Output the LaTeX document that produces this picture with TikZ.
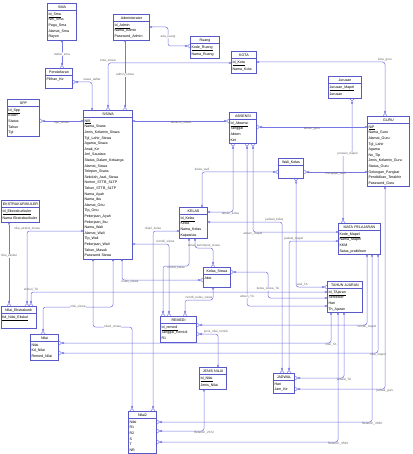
\documentclass[tikz,border=0pt]{standalone}
\usepackage{fontspec}
\usepackage{tikz}
\usetikzlibrary{arrows.meta,shapes.multipart}
\newfontfamily\erfont{Liberation Sans}
\definecolor{erline}{RGB}{88,88,200}
\definecolor{relline}{RGB}{118,118,228}
\setlength\parindent{0pt}
\newcommand\enttitle[1]{\strut\hfill#1\hfill\null}

\begin{document}
\begin{tikzpicture}[
    x=1pt, y=-1pt,
    font=\erfont\fontsize{3.6}{5.6}\selectfont,
    cone/.tip={Circle[open,length=2.2pt,width=2.2pt]},
    cmany/.tip={Circle[open,length=2.2pt,width=2.2pt] Straight Barb[reversed,length=2.4pt,width=4pt]},
    entity/.style={
		rectangle split,
		rectangle split parts=2,
		draw=erline,
		line width=0.6pt,
		fill=white,
		anchor=north west,
		inner xsep=1.2pt,
		inner ysep=0.5pt,
		text width=#1,
		align=left
	},
	rel/.style={
		draw=relline,
		line width=0.5pt,
		rounded corners=2.5pt
	},
	rlabel/.style={
		font=\erfont\fontsize{3.1}{3.5}\selectfont,
		text=black!60,
		inner sep=0.4pt
	}
  ]
  \useasboundingbox (0,0) rectangle (412,454);

    % We start by placing the entities
  \node [entity=27pt] (sma) at (47,3)
  {\enttitle{SMA}\nodepart{two}\strut\underline{Id\_Sma}\\Nm\_Sma\\Pagu\_Sma\\Alamat\_Sma\\Rayon\strut};

  \node [entity=34pt] (admin) at (113,14)
  {\enttitle{Administrator}\nodepart{two}\strut\underline{Id\_Admin}\\Nama\_Admin\\Password\_Admin\strut};

  \node [entity=27pt] (ruang) at (190,36)
  {\enttitle{Ruang}\nodepart{two}\strut\underline{Kode\_Ruang}\\Nama\_Ruang\strut};

  \node [entity=23pt] (kota) at (231,51)
  {\enttitle{KOTA}\nodepart{two}\strut\underline{Id\_Kota}\\Nama\_Kota\strut};

  \node [entity=25pt] (daftar) at (45,68)
  {\enttitle{Pendaftaran}\nodepart{two}\strut Pilihan\_Ke\\\strut};

  \node [entity=30pt] (spp) at (7,99)
  {\enttitle{SPP}\nodepart{two}\strut\underline{Id\_Spp}\\Bulan\\Status\\Tahun\\Tgl\strut};

  \node [entity=47pt] (siswa) at (83,110)
  {\enttitle{SISWA}\nodepart{two}\strut\underline{NIS}\\Nama\_Siswa\\Jenis\_Kelamin\_Siswa\\Tgl\_Lahir\_Siswa\\
   Agama\_Siswa\\Anak\_Ke\\Jml\_Saudara\\Status\_Dalam\_Keluarga\\Alamat\_Siswa\\Telepon\_Siswa\\
   Sekolah\_Asal\_Siswa\\Nomor\_STTB\_SLTP\\Tahun\_STTB\_SLTP\\Nama\_Ayah\\Nama\_Ibu\\Alamat\_Ortu\\
   Tlp\_Ortu\\Pekerjaan\_Ayah\\Pekerjaan\_Ibu\\Nama\_Wali\\Alamat\_Wali\\Tlp\_Wali\\Pekerjaan\_Wali\\
   Tahun\_Masuk\\Password Siswa\strut};

  \node [entity=25pt] (absensi) at (229,112)
  {\enttitle{ABSENSI}\nodepart{two}\strut\underline{Id\_Absensi}\\Tanggal\\Absen\\Ket\strut};

  \node [entity=31pt] (jurusan) at (328,76)
  {\enttitle{Jurusan}\nodepart{two}\strut\underline{Jurusan\_Mapel}\\Jurusan\strut};

  \node [entity=40pt] (guru) at (367,116)
  {\enttitle{GURU}\nodepart{two}\strut\underline{NIP}\\Nama\_Guru\\Alamat\_Guru\\Tgl\_Lahir\\Agama\\No\_Tlp\\
   Jenis\_Kelamin\_Guru\\Status\_Guru\\Golongan\_Pangkat\\Pendidikan\_Terakhir\\Password\_Guru\strut};

  \node [entity=23pt] (walikelas) at (278,158)
  {\enttitle{Wali\_Kelas}\nodepart{two}\rule{0pt}{11pt}};

  \node [entity=26pt] (kelas) at (179,207)
  {\enttitle{KELAS}\nodepart{two}\strut\underline{Id\_Kelas}\\Kelas\\Nama\_Kelas\\Kapasitas\strut};

  \node [entity=25pt] (kelassiswa) at (203,267)
  {\enttitle{Kelas\_Siswa}\nodepart{two}\strut Absi\\\strut};

  \node [entity=40pt] (mapel) at (338,223)
  {\enttitle{MATA PELAJARAN}\nodepart{two}\strut\underline{Kode\_Mapel}\\Nama\_Mapel\\KKM\\Satus\_praktikum\strut};

  \node [entity=33pt] (tahunajaran) at (327,281)
  {\enttitle{TAHUN AJARAN}\nodepart{two}\strut\underline{Id\_TAjaran}\\Semester\\Hari\\Th\_Ajaran\strut};

  \node [entity=36pt] (ekskul) at (1,200)
  {\enttitle{EKSTRAKURIKULER}\nodepart{two}\strut\underline{Id\_Ekstrakurikuler}\\Nama Ekstrakurikuler\strut};

  \node [entity=33pt] (nilaiekskul) at (0.5,306)
  {\enttitle{Nilai\_Ekstrakurik}\nodepart{two}\strut\underline{Kd\_Nilai\_Ekskul}\\\strut};

  \node [entity=26pt] (nilai) at (30,334)
  {\enttitle{Nilai}\nodepart{two}\strut Nilai\\Kd\_Nilai\\Remed\_Nilai\strut};

  \node [entity=34pt] (remedi) at (160,316)
  {\enttitle{REMEDI}\nodepart{two}\strut\underline{Id\_remedi}\\Tanggal\_Remidi\\R1\strut};

  \node [entity=25pt] (jenisnilai) at (199,367)
  {\enttitle{JENIS NILAI}\nodepart{two}\strut\underline{Id\_Nilai}\\Jenis\_Nilai\strut};

  \node [entity=19pt] (jadwal) at (273,373)
  {\enttitle{JADWAL}\nodepart{two}\strut Hari\\Jam\_Ke\strut};

  \node [entity=26pt] (nilaidua) at (128,411)
  {\enttitle{Nilai2}\nodepart{two}\strut Nilai\\R1\\R2\\S\\T\\NR\strut};

    % relations
  \draw [rel, cone-cmany] (sma.south) -- node [rlabel, fill=white] {daftar\_sma} (sma.south |- daftar.north);
  \draw [rel, cone-cmany] (siswa.north -| 92,0) |- node [rlabel, pos=0.5, above] {siswa\_daftar} (daftar.east |- 0,82);
  \draw [rel, cone-cmany] (admin.south -| 125,0) -- node [rlabel, fill=white] {admin\_siswa} (siswa.north -| 125,0);
  \draw [rel, cone-cmany] (kota.west |- 0,63) -| node [rlabel, pos=0.5, above] {kota\_siswa} (siswa.north -| 108,0);
  \draw [rel, cmany-cone] (spp.east |- 0,121) -- node [rlabel, below] {spp\_siswa} (siswa.west |- 0,121);
  \draw [rel, cone-cmany] (admin.east |- 0,27) -- (168,27) -- node [rlabel, fill=white] {ada\_ruang} (168,46) -- (ruang.west |- 0,46);
  \draw [rel, cone-cmany] (siswa.east |- 0,121) -- node [rlabel, below] {absensi\_siswa} (absensi.west |- 0,121);
  \draw [rel, cone-cmany] (kota.east |- 0,62) -| node [rlabel, pos=0.5, above] {kota\_guru} (guru.north -| 385,0);
  \draw [rel, cone-cmany] (guru.west |- 0,127) -- node [rlabel, below] {absen\_guru} (absensi.east |- 0,127);
  \draw [rel, cmany-cmany] (jurusan.south -| 352,0) -- (352,154) -- node [rlabel, fill=white] {jurusan\_mapel} (343,154) -- (mapel.north -| 343,0);
  \draw [rel, cmany-cone] (walikelas.east |- 0,172) -- node [rlabel, below] {mengajar\_wali} (guru.west |- 0,172);
  \draw [rel, cone-cmany] (kelas.north -| 202,0) |- node [rlabel, pos=0.5, above] {kelas\_wali} (walikelas.west |- 0,172);
  \draw [rel, cmany-cmany] (walikelas.south -| 296,0) |- node [rlabel, pos=0.6, above] {wali\_TA} (tahunajaran.west |- 0,287);
  \draw [rel, cmany-cone] (absensi.south -| 233,0) |- node [rlabel, pos=0.55, below] {absen\_kelas} (kelas.east |- 0,212);
  \draw [rel, cmany-cone] (absensi.south -| 253,0) |- node [rlabel, pos=0.5, below] {absen\_mapel} (mapel.west |- 0,232);
  \draw [rel, cmany-cone] (absensi.south -| 247,0) |- node [rlabel, pos=0.47, fill=white] {absen\_TA} (tahunajaran.west |- 0,306);
  \draw [rel, cone-cmany] (kelas.east |- 0,222) -| node [rlabel, pos=0.45, above] {jadwal\_kelas} (jadwal.north -| 282,0);
  \draw [rel, cone-cmany] (mapel.west |- 0,241) -| node [rlabel, pos=0.45, above] {jadwal\_mapel} (jadwal.north -| 289,0);
  \draw [rel, cone-cmany] (kelas.west |- 0,231) -| node [rlabel, pos=0.5, above] {nilai2\_kelas} (nilaidua.north -| 153,0);
  \draw [rel, cone-cmany] (siswa.east |- 0,244) -| node [rlabel, pos=0.45, above] {remidi\_siswa} (remedi.north -| 169,0);
  \draw [rel, cone-cmany] (kelas.south -| 189,0) -- (189,266) -- node [rlabel, below] {remidi\_kelas} (163,266) -- (remedi.north -| 163,0);
  \draw [rel, cone-cmany] (kelas.south -| 195,0) -- (195,248) -- node [rlabel, above] {kelas\_kelompok\_siswa} (213,248) -- (kelassiswa.north -| 213,0);
  \draw [rel, cone-cmany] (siswa.south -| 122,0) |- node [rlabel, pos=0.55, below] {kelas\_siswa} (kelassiswa.west |- 0,280);
  \draw [rel, cmany-cone] (kelassiswa.east |- 0,272) -- (268,272) -- node [rlabel, pos=0.65, fill=white] {kelas\_siswa\_TA} (268,298) -- (tahunajaran.west |- 0,298);
  \draw [rel, cone-cmany] (kelassiswa.south -| 213,0) -- (213,300) -- node [rlabel, above] {remidi\_kelas\_siswa} (185,300) -- (remedi.north -| 185,0);
  \draw [rel, cone-cmany] (siswa.south -| 113,0) -- (113,307) -- node [rlabel, fill=white] {nilai\_siswa} (43,307) -- (nilai.north -| 43,0);
  \draw [rel, cone-cmany] (siswa.south -| 93,0) -- (93,327) -- node [rlabel, fill=white] {nilai2\_siswa} (132,327) -- (nilaidua.north -| 132,0);
  \draw [rel, cone-cmany] (siswa.west |- 0,231) -| node [rlabel, pos=0.5, above] {nilai\_ekskul\_siswa} (nilaiekskul.north -| 27,0);
  \draw [rel, cone-cmany] (ekskul.south -| 9,0) -- node [rlabel, pos=0.4, fill=white] {nilai\_ekskul} (nilaiekskul.north -| 9,0);
  \draw [rel, cmany-cone] (nilaiekskul.north -| 31,0) |- node [rlabel, pos=0.5, above] {ekskul\_TA} (tahunajaran.west |- 0,292);
  \draw [rel, cone-cmany] (tahunajaran.south -| 331,0) |- node [rlabel, pos=0.5, below] {nilai\_TA} (nilai.east |- 0,343);
  \draw [rel, cone-cmany] (tahunajaran.south -| 344,0) |- node [rlabel, pos=0.5, below] {jadwal\_TA} (jadwal.east |- 0,378);
  \draw [rel, cone-cmany] (tahunajaran.south -| 338,0) |- node [rlabel, pos=0.5, below] {Relation\_3569} (nilaidua.east |- 0,442);
  \draw [rel, cone-cmany] (mapel.south -| 367,0) |- node [rlabel, pos=0.5, below] {remidi\_mapel} (remedi.east |- 0,325);
  \draw [rel, cone-cmany] (mapel.south -| 372,0) |- node [rlabel, pos=0.5, below] {Relation\_3580} (nilaidua.east |- 0,422);
  \draw [rel, cone-cmany] (mapel.south -| 378,0) |- node [rlabel, pos=0.5, below] {nilai\_mapel} (nilai.east |- 0,353);
  \draw [rel, cone-cmany] (guru.south -| 385,0) |- node [rlabel, pos=0.5, below] {jadwal\_guru} (jadwal.east |- 0,389);
  \draw [rel, cone-cmany] (jenisnilai.north -| 218,0) |- node [rlabel, pos=0.55, above] {jenis\_nilai\_remidi} (remedi.east |- 0,334);
  \draw [rel, cone-cmany] (jenisnilai.south -| 204,0) |- node [rlabel, pos=0.5, below] {Relation\_2672} (nilaidua.east |- 0,431);

\end{tikzpicture}
\end{document}
